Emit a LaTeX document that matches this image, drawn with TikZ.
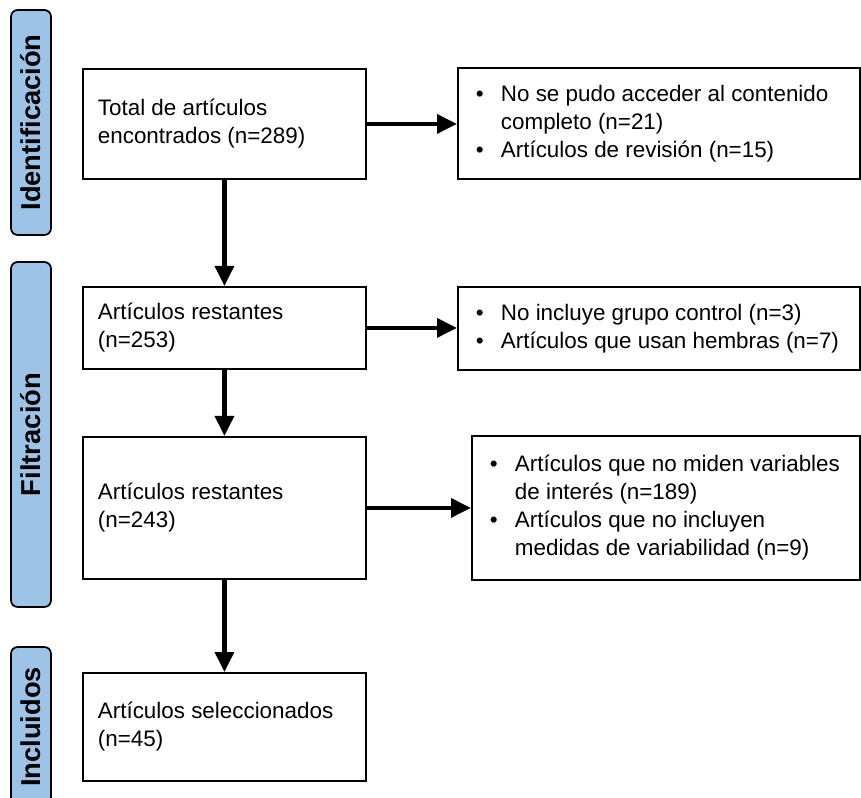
\documentclass[tikz,border=0pt]{standalone}
\usepackage{fontspec}
\setmainfont{Liberation Sans}
\usepackage{xcolor}
\definecolor{stageBlue}{HTML}{9DC3E6}
\usetikzlibrary{arrows.meta}
\newlength{\pxu}
\setlength{\pxu}{0.75pt}
\newcommand{\blt}{\hspace*{8\pxu}\makebox[25\pxu][l]{\textbullet}}
\newcommand{\hang}{\hspace*{33\pxu}}

\begin{document}
\begin{tikzpicture}[x=0.75pt, y=-0.75pt,
  stage/.style={draw, line width=1.3pt, fill=stageBlue, rounded corners=5pt, rotate=90,
    minimum height=40\pxu, inner sep=0pt, font=\fontsize{20.5}{24}\selectfont\bfseries},
  box/.style={draw, line width=1.4pt, anchor=north west, align=flush left, inner ysep=0pt,
    font=\fontsize{16.8}{21}\selectfont},
  flow/.style={line width=3.2pt, -{Triangle[length=15pt, width=14pt]}}]
  \useasboundingbox (0,0) rectangle (861,798);
  \node[stage, minimum width=225\pxu] (S1) at (31,122.5) {Identificación};
  \node[stage, minimum width=345\pxu] (S2) at (31,434.5) {Filtración};
  \node[stage, minimum width=160\pxu] (S3) at (31,727) {Incluidos};
  \node[box, inner xsep=15\pxu, text width=253\pxu, minimum height=110\pxu] (A) at (82,68) {Total de artículos\\encontrados (n=289)};
  \node[box, inner xsep=15\pxu, text width=253\pxu, minimum height=82\pxu] (C) at (82,286) {Artículos restantes\\(n=253)};
  \node[box, inner xsep=15\pxu, text width=253\pxu, minimum height=142\pxu] (E) at (82,436) {Artículos restantes\\(n=243)};
  \node[box, inner xsep=15\pxu, text width=253\pxu, minimum height=108\pxu] (G) at (82,672) {Artículos seleccionados\\(n=45)};
  \node[box, inner xsep=10\pxu, text width=382\pxu, minimum height=111\pxu] (B) at (457,67) {\blt No se pudo acceder al contenido\\\hang completo (n=21)\\\blt Artículos de revisión (n=15)};
  \node[box, inner xsep=10\pxu, text width=382\pxu, minimum height=83\pxu] (D) at (457,286) {\blt No incluye grupo control (n=3)\\\blt Artículos que usan hembras (n=7)};
  \node[box, inner xsep=10\pxu, text width=368\pxu, minimum height=144\pxu] (F) at (471,435) {\blt Artículos que no miden variables\\\hang de interés (n=189)\\\blt Artículos que no incluyen\\\hang medidas de variabilidad (n=9)};
  \draw[flow] (A) -- (C);
  \draw[flow] (C) -- (E);
  \draw[flow] (E) -- (G);
  \draw[flow] (A.east) -- (A.east -| B.west);
  \draw[flow] (C.east) -- (C.east -| D.west);
  \draw[flow] (E.east) -- (E.east -| F.west);
\end{tikzpicture}
\end{document}
